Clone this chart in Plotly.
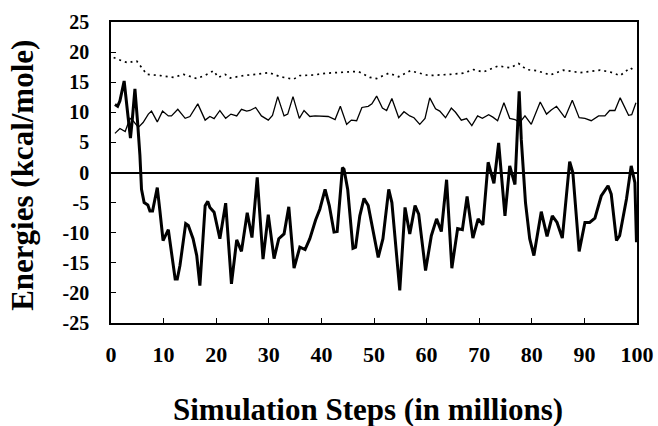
import plotly.graph_objects as go

# Thick solid series
thick_x = [0.75, 1.26, 1.7, 2.5, 3.3, 3.7, 4.05, 4.55, 5.06, 5.5, 5.8, 6.3, 7.0, 7.4, 7.9, 8.8, 9.3, 9.9,
           10.9, 11.3, 12.2, 12.6, 13.1, 14.2, 14.7, 15.6, 16.3, 16.9, 17.9, 18.4, 18.8, 19.6, 20.7, 21.8,
           22.9, 23.9, 24.8, 25.9, 26.8, 27.8, 28.9, 29.9, 31.0, 31.9, 32.9, 33.8, 34.8, 35.9, 36.9, 37.8,
           38.9, 39.7, 40.7, 41.5, 42.4, 43.0, 44.0, 44.3, 45.0, 46.0, 46.5, 47.3, 48.1, 48.9, 49.8, 50.8,
           51.7, 52.8, 53.4, 53.9, 54.9, 55.9, 56.8, 57.8, 58.5, 59.8, 60.9, 61.9, 62.8, 63.8, 64.8, 65.9,
           66.8, 67.7, 68.8, 69.8, 70.7, 71.7, 72.8, 73.7, 74.9, 75.8, 76.8, 77.6, 78.0, 78.8, 79.6, 80.4,
           81.8, 82.9, 83.9, 84.8, 85.8, 87.2, 87.8, 89.0, 90.1, 91.0, 92.0, 93.2, 94.5, 95.1, 96.1, 96.7,
           98.0, 98.9, 99.6, 99.9]
thick_y = [11.3, 11.0, 11.9, 15.2, 8.8, 5.7, 8.8, 13.9, 8.3, 2.8, -2.8, -5.0, -5.4, -6.4, -6.4, -2.5, -6.4, -11.3,
           -9.5, -12.2, -17.7, -17.7, -15.5, -8.5, -8.8, -11.0, -13.8, -18.8, -5.5, -4.8, -5.8, -6.6, -11.0, -5.1,
           -18.5, -11.2, -13.1, -6.7, -10.8, -0.8, -14.4, -7.0, -14.3, -11.0, -10.2, -5.7, -15.9, -12.4, -12.8, -11.0,
           -7.9, -6.1, -2.8, -5.5, -9.9, -9.8, 0.8, 0.55, -2.8, -12.6, -12.4, -7.2, -4.3, -5.5, -9.4, -14.1,
           -11.0, -2.8, -5.0, -9.9, -19.6, -5.8, -10.2, -5.5, -6.9, -16.3, -10.5, -7.7, -9.8, -1.2, -15.9, -9.3,
           -9.5, -4.0, -10.9, -7.7, -8.7, 1.7, -1.8, 4.9, -7.2, 1.1, -2.0, 13.5, 5.5, -5.0, -11.0, -13.8,
           -6.5, -10.6, -7.2, -8.3, -10.9, 1.8, 0.0, -13.1, -8.3, -8.3, -7.6, -3.9, -2.2, -3.6, -11.3, -10.5,
           -4.4, 1.1, -1.7, -11.6]

# Thin solid series
thin_x = [0.75, 1.7, 2.7, 3.6, 4.2, 5.2, 6.1, 7.1, 7.7, 8.8, 9.8, 10.9, 11.5, 12.7, 14.1, 15.0, 16.5, 17.9,
          18.8, 19.6, 20.7, 21.8, 22.8, 23.9, 24.8, 25.8, 26.4, 27.5, 28.6, 29.9, 30.7, 31.7, 32.9, 33.6,
          34.6, 35.8, 36.7, 37.8, 38.8, 40.0, 41.3, 42.6, 43.6, 44.8, 45.7, 46.7, 47.7, 48.9, 49.6, 50.5,
          51.6, 52.4, 53.4, 54.7, 55.7, 56.8, 57.6, 58.7, 59.7, 60.6, 61.7, 62.5, 63.6, 64.7, 65.5, 66.6,
          67.6, 68.6, 69.7, 70.6, 71.8, 72.6, 73.5, 74.7, 75.8, 76.8, 77.7, 78.7, 79.9, 81.6, 82.8, 83.7,
          84.7, 86.3, 87.7, 89.0, 90.1, 91.3, 92.7, 93.9, 94.8, 95.8, 96.8, 98.4, 99.0, 99.8]
thin_y = [6.5, 7.3, 6.8, 9.0, 8.6, 7.5, 8.3, 9.7, 10.2, 8.4, 10.2, 9.4, 9.4, 10.5, 9.0, 9.3, 11.4, 8.7,
          9.3, 8.95, 10.3, 9.0, 9.7, 9.4, 10.5, 10.2, 10.3, 10.8, 9.4, 8.7, 9.5, 12.6, 9.4, 9.7,
          12.6, 9.0, 10.3, 9.3, 9.4, 9.4, 9.3, 8.8, 11.0, 8.0, 8.7, 8.6, 10.8, 11.0, 11.4, 12.7,
          10.7, 10.3, 12.3, 9.1, 10.1, 9.4, 9.1, 8.0, 9.0, 12.4, 10.6, 10.2, 9.1, 10.7, 10.0, 8.7,
          8.95, 7.8, 9.4, 9.0, 9.6, 9.2, 8.6, 11.6, 9.0, 8.8, 8.3, 9.4, 8.0, 11.7, 9.7, 10.4,
          11.0, 9.1, 12.0, 9.1, 9.0, 8.6, 9.4, 9.4, 10.3, 10.3, 12.4, 9.5, 9.6, 11.6]

# Dotted series
dot_x = [0.5, 1.5, 2.5, 3.4, 4.3, 4.9, 5.8, 6.8, 9.4, 11.9, 13.8, 16.3, 18.0, 19.5, 20.4, 21.7, 22.7, 25.2,
         27.5, 30.0, 32.2, 34.7, 35.9, 38.5, 41.0, 44.5, 47.0, 49.2, 50.5, 52.8, 54.7, 56.9, 60.4, 64.5,
         67.0, 68.9, 70.8, 73.6, 75.9, 77.5, 79.0, 81.0, 83.5, 86.0, 89.2, 93.0, 94.9, 96.8, 98.7, 99.6]
dot_y = [19.1, 18.7, 18.4, 18.2, 18.5, 18.5, 17.4, 16.3, 16.1, 15.8, 16.3, 15.6, 16.2, 16.9, 15.8, 16.3, 15.7, 16.1,
         16.3, 16.6, 15.9, 15.5, 16.1, 16.2, 16.5, 16.7, 16.8, 15.8, 15.6, 16.5, 15.9, 16.9, 16.1, 16.3,
         16.5, 17.1, 16.7, 17.7, 17.4, 18.1, 17.1, 16.9, 16.2, 17.0, 16.6, 17.0, 16.7, 16.1, 17.4, 16.9]

x_ticks = [0, 10, 20, 30, 40, 50, 60, 70, 80, 90, 100]
y_ticks = [-25, -20, -15, -10, -5, 0, 5, 10, 15, 20, 25]
x_title = "Simulation Steps (in millions)"
y_title = "Energies (kcal/mole)"

FONT = "Liberation Serif"

fig = go.Figure()
fig.add_trace(go.Scatter(x=dot_x, y=dot_y, mode="lines",
                         line=dict(color="black", width=1.7, dash="2px,4px")))
fig.add_trace(go.Scatter(x=thin_x, y=thin_y, mode="lines",
                         line=dict(color="black", width=1.3)))
fig.add_trace(go.Scatter(x=thick_x, y=thick_y, mode="lines",
                         line=dict(color="black", width=3.0)))

fig.update_layout(
    width=658, height=426,
    margin=dict(l=111, r=21, t=22, b=103),
    paper_bgcolor="white", plot_bgcolor="white",
    showlegend=False,
    font=dict(family=FONT, color="black"),
    xaxis=dict(
        range=[0, 100], tickvals=x_ticks, ticktext=[str(v) for v in x_ticks],
        ticks="inside", ticklen=5, tickcolor="black", tickwidth=1,
        showline=True, linecolor="black", linewidth=1.5, mirror=True,
        showgrid=False, zeroline=False, automargin=False,
        ticklabelstandoff=11,
        tickfont=dict(family=FONT, size=22, weight="bold"),
    ),
    yaxis=dict(
        range=[-25, 25], tickvals=y_ticks, ticktext=[str(v) for v in y_ticks],
        ticks="inside", ticklen=5, tickcolor="black", tickwidth=1,
        showline=True, linecolor="black", linewidth=1.5, mirror=True,
        showgrid=False, zeroline=True, zerolinecolor="black", zerolinewidth=1.5,
        automargin=False,
        ticklabelstandoff=16,
        tickfont=dict(family=FONT, size=20, weight="bold"),
    ),
    annotations=[
        dict(text=x_title, xref="paper", yref="paper", x=0.4886, y=-0.288,
             xanchor="center", yanchor="middle", showarrow=False,
             font=dict(family=FONT, size=31, weight="bold", color="black")),
        dict(text=y_title, xref="paper", yref="paper", x=-0.1673, y=0.489,
             xanchor="center", yanchor="middle", showarrow=False, textangle=-90,
             font=dict(family=FONT, size=31, weight="bold", color="black")),
    ],
)

fig.write_html("out.html")
